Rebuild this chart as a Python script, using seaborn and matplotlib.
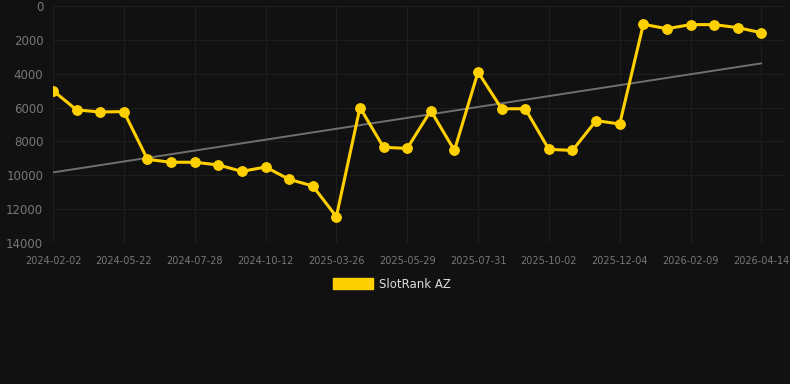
import matplotlib
matplotlib.use("Agg")
import matplotlib.pyplot as plt
import seaborn as sns
import numpy as np
import pandas as pd

# --- Data ---
rank = [5000, 6140, 6260, 6240, 9060, 9230, 9230, 9390, 9770, 9510,
        10240, 10630, 12440, 6000, 8350, 8410, 6180, 8530, 3900, 6070,
        6070, 8470, 8530, 6770, 6970, 1080, 1340, 1100, 1100, 1280, 1580]
tick_labels = ['2024-02-02', '2024-05-22', '2024-07-28', '2024-10-12',
               '2025-03-26', '2025-05-29', '2025-07-31', '2025-10-02',
               '2025-12-04', '2026-02-09', '2026-04-14']
series_name = 'SlotRank AZ'

bg = '#111111'
gold = '#FFD000'

df = pd.DataFrame({'idx': np.arange(len(rank)), 'rank': rank})

# linear trend through the series
coef = np.polyfit(df['idx'], df['rank'], 1)
df['trend'] = np.polyval(coef, df['idx'])

sns.set_theme(style="dark")
fig = plt.figure(figsize=(7.9, 3.84), dpi=100, facecolor=bg)
ax = fig.add_axes([53 / 790, 1 - 243 / 384, (785 - 53) / 790, (243 - 6) / 384])
ax.set_facecolor(bg)

sns.lineplot(data=df, x='idx', y='trend', ax=ax, color='#707070', linewidth=1.4)
sns.lineplot(data=df, x='idx', y='rank', ax=ax, color=gold, linewidth=2.2,
             marker='o', markersize=7, markeredgecolor=gold, label=series_name)

ax.set_ylim(14000, 0)
ax.set_xlim(0, 31)
ax.set_yticks(range(0, 14001, 2000))
ax.set_xticks(range(0, len(rank), 3))
ax.set_xticklabels(tick_labels)
ax.set_xlabel('')
ax.set_ylabel('')

ax.grid(True, color='#1e1e1e', linewidth=0.8)
for s in ax.spines.values():
    s.set_visible(False)
ax.tick_params(axis='y', colors='#777777', labelsize=8.5, length=0, pad=7)
ax.tick_params(axis='x', colors='#777777', labelsize=7, length=0, pad=9)

# legend below the plot
ax.get_legend().remove()
handle = plt.Rectangle((0, 0), 1, 1, color=gold)
leg = fig.legend([handle], [series_name], loc='center', bbox_to_anchor=(392 / 790, 1 - 284 / 384),
                 frameon=False, handlelength=3.4, handleheight=1.0, handletextpad=0.5,
                 fontsize=8.5)
for t in leg.get_texts():
    t.set_color('#dddddd')

fig.savefig('out.png', dpi=100, facecolor=bg)
